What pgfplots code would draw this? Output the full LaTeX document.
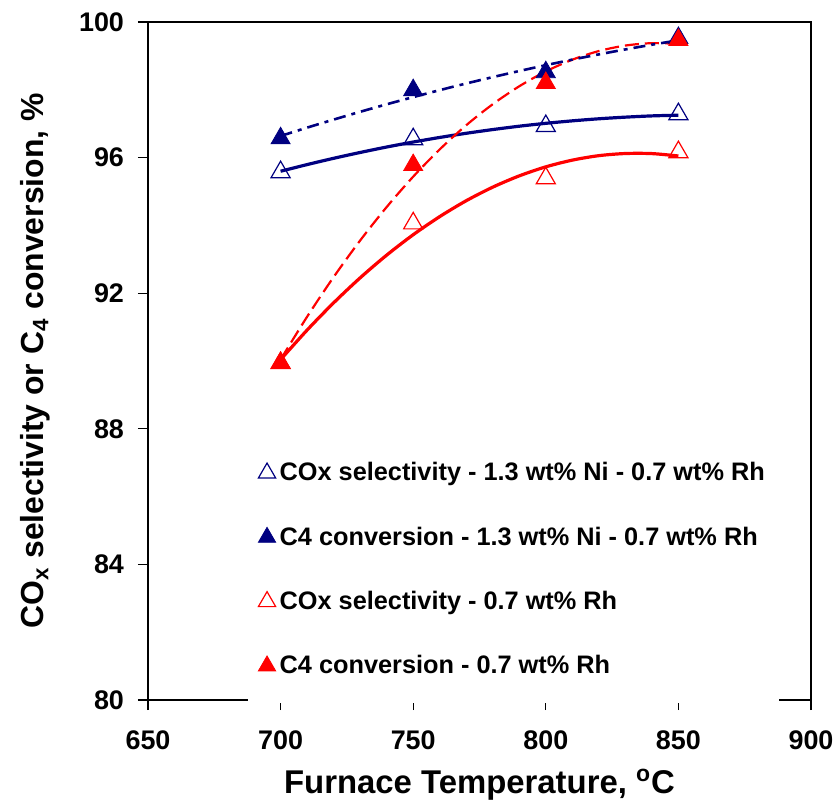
\documentclass[border=0pt]{standalone}
\usepackage{fontspec}
\setmainfont{Liberation Sans}
\usepackage{pgfplots}
\pgfplotsset{compat=1.18}
\definecolor{navyb}{RGB}{0,0,128}
\definecolor{redr}{RGB}{255,0,0}
\begin{document}
\begin{tikzpicture}
\useasboundingbox (-74bp,-51bp) rectangle (345bp,350bp);
\begin{axis}[
  scale only axis, width=331.5bp, height=339bp,
  xmin=650, xmax=900, ymin=80, ymax=100,
  xtick={650,700,...,900}, ytick={80,84,...,100},
  tick align=outside, tick pos=left, major tick length=5bp,
  axis line style={line width=0.6bp, black},
  every tick/.style={black, line width=0.6bp},
  /pgf/number format/assume math mode=true,
  ticklabel style={font=\fontsize{13.5}{16}\selectfont\bfseries},
  xticklabel style={yshift=-7bp},
  yticklabel style={xshift=-3.5bp},
  xlabel={Furnace Temperature, \textsuperscript{o}C},
  xlabel style={at={(axis description cs:0.5,-0.125)}, anchor=center, font=\fontsize{16.5}{20}\selectfont\bfseries},
  ylabel={CO\textsubscript{x} selectivity or C\textsubscript{4} conversion, \%},
  ylabel style={at={(axis description cs:-0.1704,0.5)}, anchor=center, rotate=0, font=\fontsize{16}{19}\selectfont\bfseries},
  legend style={at={(axis description cs:0.1508,-0.0044)}, anchor=south west, fill=white, draw=none,
    font=\fontsize{12.7}{15}\selectfont\bfseries, row sep=17.5bp, inner xsep=5bp, inner ysep=11bp},
  legend cell align=left,
  legend image code/.code={\draw[mark size=5bp] plot coordinates {(0bp,0bp)};},
]
% trend lines
\addplot[navyb, line width=1.6bp, smooth, forget plot] coordinates {
(700,95.597)(710,95.794)(720,95.979)(730,96.151)(740,96.312)(750,96.459)(760,96.594)(770,96.717)
(780,96.827)(790,96.926)(800,97.011)(810,97.084)(820,97.145)(830,97.193)(840,97.230)(850,97.251)};
\addplot[redr, line width=1.6bp, smooth, forget plot] coordinates {
(700,90.041)(710,90.912)(720,91.716)(730,92.453)(740,93.123)(750,93.725)(760,94.259)(770,94.728)
(780,95.128)(790,95.461)(800,95.727)(810,95.925)(820,96.057)(830,96.120)(840,96.118)(850,96.047)};
\addplot[redr, line width=1.1bp, dash pattern=on 7bp off 3bp, smooth, forget plot] coordinates {
(700,90.044)(710,91.306)(720,92.477)(730,93.555)(740,94.542)(750,95.438)(760,96.242)(770,96.955)
(780,97.575)(790,98.104)(800,98.542)(810,98.888)(820,99.143)(830,99.305)(840,99.376)(850,99.355)};
\addplot[navyb, line width=1.3bp, dash pattern=on 6bp off 3bp on 2bp off 3bp, smooth, forget plot] coordinates {
(700,96.637)(710,96.884)(720,97.121)(730,97.351)(740,97.572)(750,97.784)(760,97.990)(770,98.186)
(780,98.374)(790,98.554)(800,98.726)(810,98.890)(820,99.045)(830,99.191)(840,99.330)(850,99.460)};
% data
\addplot[only marks, mark=triangle, mark size=5.5bp, navyb, line width=0.6bp] coordinates {
(700,95.57)(750,96.54)(800,96.93)(850,97.28)};
\addlegendentry{COx selectivity - 1.3 wt\% Ni - 0.7 wt\% Rh}
\addplot[only marks, mark=triangle*, mark size=5.5bp, navyb, fill=navyb] coordinates {
(700,96.57)(750,97.99)(800,98.52)(850,99.53)};
\addlegendentry{C4 conversion - 1.3 wt\% Ni - 0.7 wt\% Rh}
\addplot[only marks, mark=triangle, mark size=5.5bp, redr, line width=0.6bp] coordinates {
(700,89.94)(750,94.06)(800,95.39)(850,96.16)};
\addlegendentry{COx selectivity - 0.7 wt\% Rh}
\addplot[only marks, mark=triangle*, mark size=5.5bp, redr, fill=redr] coordinates {
(700,89.94)(750,95.78)(800,98.20)(850,99.47)};
\addlegendentry{C4 conversion - 0.7 wt\% Rh}
\end{axis}
\end{tikzpicture}
\end{document}
